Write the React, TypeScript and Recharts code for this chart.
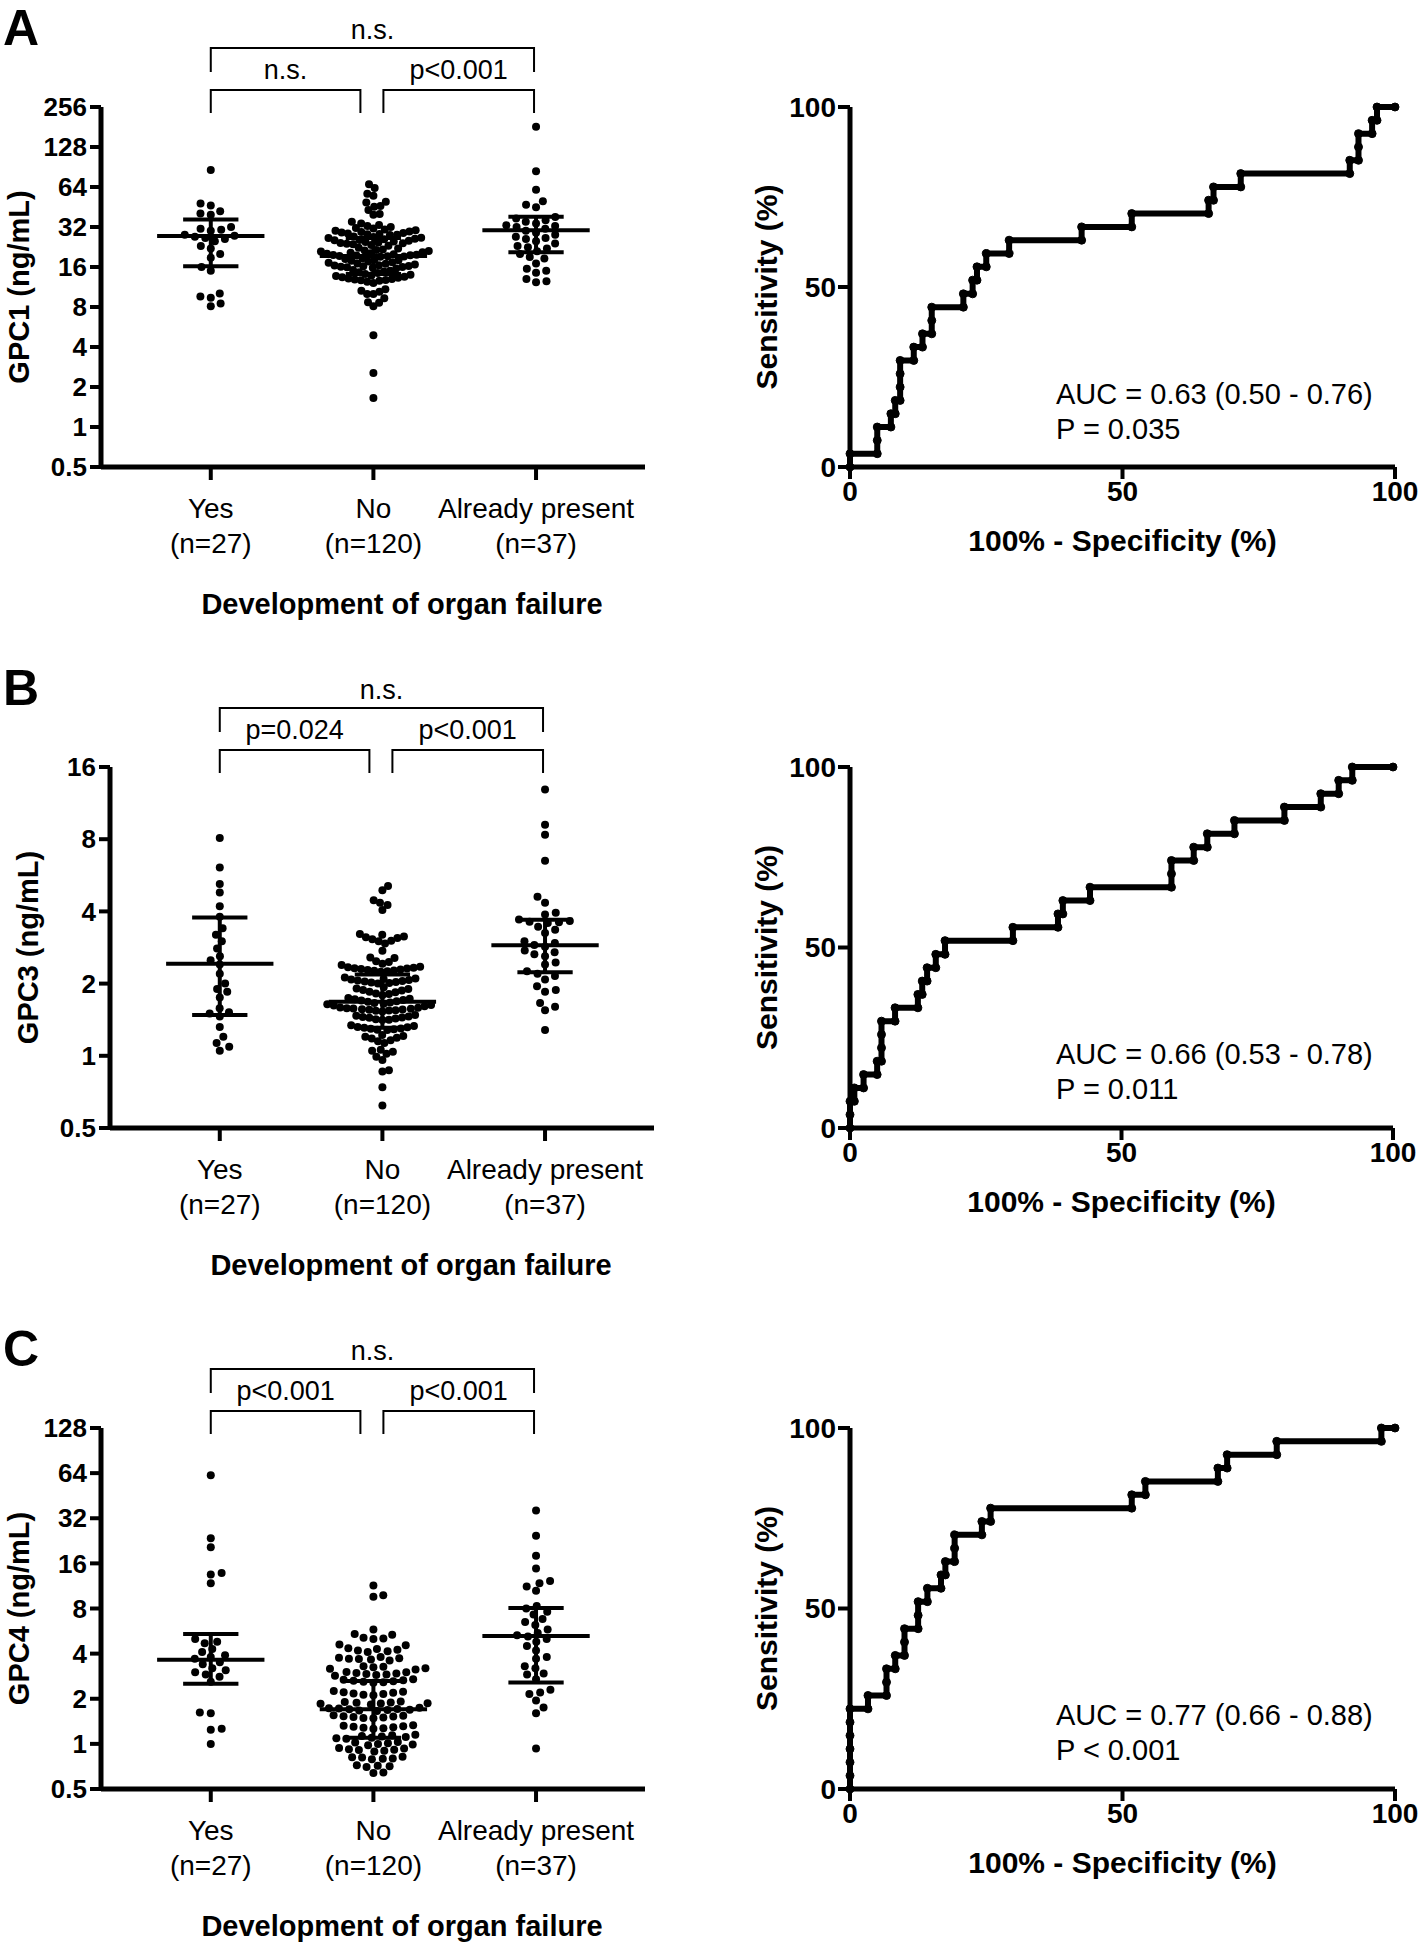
import React from "react";
import { Line, LineChart, ReferenceLine, Scatter, ScatterChart, XAxis, YAxis } from "recharts";

const FONT = '"Liberation Sans", Arial, Helvetica, sans-serif';

const groupNames = ["Yes", "No", "Already present"];
const groupSizes = ["(n=27)", "(n=120)", "(n=37)"];

// ---- GPC1 (panel A) ----
const gpc1Ticks = [0.5, 1, 2, 4, 8, 16, 32, 64, 128, 256];
const gpc1Yes = [86, 48, 46.5, 42, 40.5, 39.5, 32, 31, 30.5, 30, 28, 27.5, 27, 26.5, 26, 25, 23, 22, 20, 18.8, 16, 15, 10.1, 9.6, 9.4, 8.5, 8.1];
const gpc1No = [
  67, 63, 57, 55, 49.5, 49, 46, 45.5, 43, 40, 39.5, 35,
  34, 33.2, 32.6, 32, 31.5, 31.2, 30.6, 30.3, 30, 29.6, 29.3, 29.1, 28.8, 28.6, 28.4, 28.2, 28, 27.8,
  27.2, 26.9, 26.6, 26.4, 26.1, 25.9, 25.6, 25.4, 25.2, 24.9, 24.7, 24.5, 24.3, 24.1, 23.9, 23.7, 23.4, 23.1,
  22.3, 22, 21.7, 21.5, 21.3, 21.1, 20.9, 20.7, 20.5, 20.3, 20.1, 19.95, 19.8, 19.7, 19.6, 19.5, 19.4, 19.3, 19.2, 19.1,
  18.6, 18.4, 18.2, 18, 17.8, 17.6, 17.4, 17.2, 17, 16.9, 16.7, 16.5, 16.4, 16.3, 16.2, 16.1, 16, 15.9, 15.8, 15.6,
  15.2, 15, 14.8, 14.6, 14.4, 14.2, 14, 13.8, 13.7, 13.5, 13.4, 13.3, 13.1, 13, 12.9, 12.8, 12.7, 12.6, 12.4,
  12.1, 10.9, 10.6, 10.4, 10, 10, 9.3, 8.7, 8.6, 8.1,
  4.9, 2.55, 1.65,
];
const gpc1Already = [182, 84, 61, 50, 47, 45, 38, 37, 36, 35, 34, 33, 32.5, 32, 31, 30, 29, 28, 27, 26.5, 26, 25, 24, 23, 22.5, 22, 21, 20, 19, 18.5, 17, 15.5, 15, 14.5, 13, 12.5, 12.3];
// [center, lower, upper] per group
const gpc1Summary = [[27.4, 16.2, 36.5], [19.4, 14.2, 26.5], [30.2, 20.7, 38.3]];
const gpc1Tests = ["n.s.", "n.s.", "p<0.001"];
// ROC: [100% - specificity, sensitivity] after each step
const gpc1Roc = [
  [0, 3.7], [5.0, 7.4], [5.0, 11.1], [7.5, 14.8], [8.3, 18.5], [9.2, 22.2], [9.2, 25.9], [9.2, 29.6],
  [11.7, 33.3], [13.3, 37.0], [15.0, 40.7], [15.0, 44.4], [20.8, 48.1], [22.5, 51.9], [23.3, 55.6],
  [25.0, 59.3], [29.2, 63.0], [42.5, 66.7], [51.7, 70.4], [65.8, 74.1], [66.7, 77.8], [71.7, 81.5],
  [91.7, 85.2], [93.3, 88.9], [93.3, 92.6], [95.8, 96.3], [96.7, 100],
];
const gpc1Auc = ["AUC = 0.63 (0.50 - 0.76)", "P = 0.035"];

// ---- GPC3 (panel B) ----
const gpc3Ticks = [0.5, 1, 2, 4, 8, 16];
const gpc3Yes = [8.1, 6.1, 5.2, 4.8, 4.2, 3.8, 3.4, 3.2, 3.0, 2.8, 2.6, 2.5, 2.4, 2.2, 2.0, 1.9, 1.85, 1.75, 1.58, 1.52, 1.5, 1.46, 1.32, 1.2, 1.13, 1.09, 1.05];
const gpc3No = [
  5.1, 4.9, 4.45, 4.35, 4.25, 4.05,
  3.22, 3.2, 3.14, 3.12, 3.1, 3.06, 3.02, 3.0, 2.94,
  2.74,
  2.57, 2.56, 2.48, 2.46, 2.42, 2.39,
  2.35, 2.34, 2.33, 2.32, 2.31, 2.3, 2.29, 2.28, 2.27, 2.26, 2.25, 2.24,
  2.12, 2.1, 2.09, 2.08, 2.07, 2.06, 2.05, 2.04, 2.03, 2.02, 2.01, 2.0,
  1.93, 1.91, 1.9, 1.88, 1.87, 1.85, 1.84, 1.82, 1.81, 1.79,
  1.74, 1.73, 1.72, 1.71, 1.7, 1.69, 1.68, 1.67, 1.66, 1.65, 1.64, 1.63, 1.62, 1.61,
  1.59, 1.585, 1.58, 1.575, 1.57, 1.565, 1.56, 1.555, 1.55, 1.545, 1.54, 1.53,
  1.48, 1.47, 1.46, 1.45, 1.445, 1.44, 1.43, 1.42, 1.415, 1.41,
  1.34, 1.33, 1.32, 1.315, 1.31, 1.3, 1.295, 1.29, 1.285, 1.28,
  1.22, 1.21, 1.2, 1.19, 1.18, 1.16, 1.15, 1.13,
  1.06, 1.05, 1.04, 1.02, 0.99, 0.96, 0.87, 0.86, 0.74, 0.62,
];
const gpc3Already = [12.9, 9.2, 8.35, 6.5, 4.6, 4.35, 3.95, 3.88, 3.7, 3.65, 3.62, 3.6, 3.58, 3.45, 3.35, 3.25, 3.0, 2.95, 2.9, 2.85, 2.75, 2.7, 2.65, 2.6, 2.45, 2.4, 2.25, 2.2, 2.15, 2.08, 1.95, 1.88, 1.85, 1.66, 1.6, 1.55, 1.28];
const gpc3Summary = [[2.42, 1.48, 3.77], [1.68, 1.31, 2.18], [2.89, 2.23, 3.69]];
const gpc3Tests = ["n.s.", "p=0.024", "p<0.001"];
const gpc3Roc = [
  [0, 3.7], [0, 7.4], [0.8, 11.1], [2.5, 14.8], [5.0, 18.5], [5.8, 22.2], [5.8, 25.9], [5.8, 29.6],
  [8.3, 33.3], [12.5, 37.0], [13.3, 40.7], [14.2, 44.4], [15.8, 48.1], [17.5, 51.9], [30.0, 55.6],
  [38.3, 59.3], [39.2, 63.0], [44.2, 66.7], [59.2, 70.4], [59.2, 74.1], [63.3, 77.8], [65.8, 81.5],
  [70.8, 85.2], [80.0, 88.9], [86.7, 92.6], [90.0, 96.3], [92.5, 100],
];
const gpc3Auc = ["AUC = 0.66 (0.53 - 0.78)", "P = 0.011"];

// ---- GPC4 (panel C) ----
const gpc4Ticks = [0.5, 1, 2, 4, 8, 16, 32, 64, 128];
const gpc4Yes = [62, 23.5, 20.5, 13.8, 13.5, 11.8, 5.0, 4.8, 4.7, 4.3, 4.1, 3.9, 3.8, 3.7, 3.5, 3.4, 3.2, 3.1, 3.0, 2.9, 2.8, 2.6, 1.62, 1.6, 1.26, 1.24, 1.0];
const gpc4No = [
  11.4, 9.8, 9.6, 5.8, 5.4, 5.35, 5.1, 5.05, 5.0, 4.6, 4.55,
  4.35, 4.3, 4.25, 4.2, 4.15, 4.1,
  3.8, 3.76, 3.72, 3.7, 3.68, 3.65, 3.6,
  3.3, 3.27, 3.24, 3.2, 3.17, 3.14,
  3.02, 3.0, 2.97, 2.95, 2.93, 2.9, 2.88, 2.85,
  2.7, 2.68, 2.66, 2.64, 2.62, 2.6, 2.58, 2.56,
  2.25, 2.23, 2.21, 2.19, 2.17, 2.15, 2.13, 2.11,
  1.92, 1.9, 1.89, 1.88, 1.87, 1.86, 1.85, 1.83,
  1.74, 1.73, 1.72, 1.71, 1.7, 1.69, 1.68, 1.67, 1.66,
  1.55, 1.54, 1.53, 1.52, 1.51, 1.5, 1.49, 1.48,
  1.33, 1.32, 1.31, 1.3, 1.29, 1.28, 1.27, 1.26,
  1.15, 1.14, 1.13, 1.12, 1.11, 1.1, 1.09, 1.08,
  1.03, 1.02, 1.01, 1.0, 0.99, 0.98,
  0.94, 0.93, 0.92, 0.915, 0.91, 0.9, 0.89,
  0.82, 0.815, 0.81, 0.8, 0.795, 0.79,
  0.72, 0.715, 0.71, 0.7,
  0.645, 0.64,
];
const gpc4Already = [36, 24.5, 18, 14.8, 12.2, 11.8, 11.2, 10.5, 8.3, 8.0, 7.6, 7.3, 6.8, 6.5, 6.2, 5.8, 5.5, 5.3, 5.2, 5.0, 4.8, 4.5, 4.2, 3.8, 3.7, 3.3, 3.2, 2.95, 2.9, 2.7, 2.3, 2.2, 2.15, 1.95, 1.75, 1.6, 0.93];
const gpc4Summary = [[3.64, 2.52, 5.4], [1.7, 1.1, 2.63], [5.25, 2.57, 8.05]];
const gpc4Tests = ["n.s.", "p<0.001", "p<0.001"];
const gpc4Roc = [
  [0, 3.7], [0, 7.4], [0, 11.1], [0, 14.8], [0, 18.5], [0, 22.2], [3.3, 25.9], [6.7, 29.6], [6.7, 33.3],
  [8.3, 37.0], [10.0, 40.7], [10.0, 44.4], [12.5, 48.1], [12.5, 51.9], [14.2, 55.6], [16.7, 59.3],
  [17.5, 63.0], [19.2, 66.7], [19.2, 70.4], [24.2, 74.1], [25.8, 77.8], [51.7, 81.5], [54.2, 85.2],
  [67.5, 88.9], [69.2, 92.6], [78.3, 96.3], [97.5, 100],
];
const gpc4Auc = ["AUC = 0.77 (0.66 - 0.88)", "P < 0.001"];

// ---- layout ----
const X_MIN = -0.675;
const X_MAX = 2.67;
const PLOT_TOP = 107;
const PLOT_W = 544;
const UNIT_PX = PLOT_W / (X_MAX - X_MIN);
const ROC_LEFT = 850;

type Panel = {
  letter: string;
  yLabel: string;
  values: number[][];
  summary: number[][];
  ticks: number[];
  tests: string[];
  roc: number[][];
  auc: string[];
  top: number;
  plotH: number;
  dotLeft: number;
  rocRight: number;
  spacing: number[];
};

const panels: Panel[] = [
  { letter: "A", yLabel: "GPC1 (ng/mL)", values: [gpc1Yes, gpc1No, gpc1Already], summary: gpc1Summary, ticks: gpc1Ticks, tests: gpc1Tests, roc: gpc1Roc, auc: gpc1Auc, top: 0, plotH: 360, dotLeft: 101, rocRight: 1395, spacing: [10.5, 6.3, 10.5] },
  { letter: "B", yLabel: "GPC3 (ng/mL)", values: [gpc3Yes, gpc3No, gpc3Already], summary: gpc3Summary, ticks: gpc3Ticks, tests: gpc3Tests, roc: gpc3Roc, auc: gpc3Auc, top: 660, plotH: 361, dotLeft: 110, rocRight: 1393, spacing: [10.8, 6.6, 11] },
  { letter: "C", yLabel: "GPC4 (ng/mL)", values: [gpc4Yes, gpc4No, gpc4Already], summary: gpc4Summary, ticks: gpc4Ticks, tests: gpc4Tests, roc: gpc4Roc, auc: gpc4Auc, top: 1321, plotH: 361, dotLeft: 101, rocRight: 1395, spacing: [11, 10, 11] },
];

const tickFont = { fill: "#000", fontSize: 26, fontWeight: 700, fontFamily: FONT };
const titleStyle = { fontSize: 29, fontWeight: 700, fontFamily: FONT, fill: "#000" };
const axisLine = { stroke: "#000", strokeWidth: 5 };
const tickLine = { stroke: "#000", strokeWidth: 4 };

// place dots of one column like a scatter dot plot: lowest first, each as close to the centre as it fits,
// alternating sides on ties
function swarm(values: number[], group: number, pxPerLog2: number, sx: number, sy: number) {
  const sorted = [...values].sort((a, b) => a - b);
  const placed: { dx: number; py: number }[] = [];
  let side = 1;
  return sorted.map((v) => {
    const py = Math.log2(v) * pxPerLog2;
    const cands = [0];
    placed.forEach((p) => {
      const t = (py - p.py) / sy;
      if (Math.abs(t) < 1) {
        const off = sx * Math.sqrt(1 - t * t);
        cands.push(p.dx + off, p.dx - off);
      }
    });
    cands.sort((a, b) => {
      const d = Math.abs(a) - Math.abs(b);
      if (Math.abs(d) > 0.5) return d;
      return b * side - a * side;
    });
    const fits = (c: number) =>
      placed.every((p) => ((c - p.dx) / sx) ** 2 + ((py - p.py) / sy) ** 2 >= 0.999);
    const dx = cands.find(fits) ?? 0;
    if (dx > 0.01) side = -1;
    else if (dx < -0.01) side = 1;
    placed.push({ dx, py });
    return { x: group + dx / UNIT_PX, y: v };
  });
}

const CategoryTick = (props: any) => {
  const { x, y, payload } = props;
  const i = payload.value as number;
  const style = { fontSize: 28, fontFamily: FONT, fill: "#000" };
  return (
    <g>
      <text x={x} y={y + 36} textAnchor="middle" style={style}>{groupNames[i]}</text>
      <text x={x} y={y + 71} textAnchor="middle" style={style}>{groupSizes[i]}</text>
    </g>
  );
};

const dotShape = (props: any) => <circle cx={props.cx} cy={props.cy} r={4} fill="#000" />;

function DotPlot({ p }: { p: Panel }) {
  const lo = p.ticks[0];
  const hi = p.ticks[p.ticks.length - 1];
  const pxPerLog2 = p.plotH / (Math.log2(hi) - Math.log2(lo));
  const width = 700;
  const height = PLOT_TOP + p.plotH + 160;
  const bottom = PLOT_TOP + p.plotH;
  const columns = p.values.map((vals, g) => swarm(vals, g, pxPerLog2, p.spacing[g], 8));

  return (
    <div style={{ position: "absolute", left: 0, top: p.top }}>
      <ScatterChart width={width} height={height} margin={{ top: PLOT_TOP, right: width - p.dotLeft - PLOT_W, bottom: 0, left: 0 }}>
        <XAxis
          type="number"
          dataKey="x"
          domain={[X_MIN, X_MAX]}
          ticks={[0, 1, 2]}
          interval={0}
          allowDataOverflow
          height={160}
          tickSize={13}
          axisLine={axisLine}
          tickLine={tickLine}
          tick={<CategoryTick />}
          label={{
            content: () => (
              <text x={p.dotLeft + PLOT_W / 2 + 29} y={bottom + 147} textAnchor="middle" style={titleStyle}>
                Development of organ failure
              </text>
            ),
          }}
        />
        <YAxis
          type="number"
          dataKey="y"
          scale="log"
          domain={[lo, hi]}
          ticks={p.ticks}
          interval={0}
          allowDataOverflow
          width={p.dotLeft}
          tickSize={11}
          tickMargin={3}
          axisLine={axisLine}
          tickLine={tickLine}
          tick={tickFont}
          label={{
            content: () => {
              const cx = p.dotLeft - 82;
              const cy = PLOT_TOP + p.plotH / 2;
              return (
                <text x={cx} y={cy} transform={`rotate(-90 ${cx} ${cy})`} textAnchor="middle" dominantBaseline="central" style={titleStyle}>
                  {p.yLabel}
                </text>
              );
            },
          }}
        />
        {columns.map((pts, g) => (
          <Scatter key={g} data={pts} fill="#000" shape={dotShape} isAnimationActive={false} />
        ))}
        {p.summary.map(([c, low, high], g) => (
          <React.Fragment key={`s${g}`}>
            <ReferenceLine segment={[{ x: g - 0.33, y: c }, { x: g + 0.33, y: c }]} stroke="#000" strokeWidth={4} />
            <ReferenceLine segment={[{ x: g - 0.17, y: low }, { x: g + 0.17, y: low }]} stroke="#000" strokeWidth={4} />
            <ReferenceLine segment={[{ x: g - 0.17, y: high }, { x: g + 0.17, y: high }]} stroke="#000" strokeWidth={4} />
            <ReferenceLine segment={[{ x: g, y: low }, { x: g, y: high }]} stroke="#000" strokeWidth={4} />
          </React.Fragment>
        ))}
      </ScatterChart>
    </div>
  );
}

function RocPlot({ p }: { p: Panel }) {
  const width = 718;
  const height = PLOT_TOP + p.plotH + 110;
  const bottom = PLOT_TOP + p.plotH;
  const left = ROC_LEFT - 700;
  const right = p.rocRight - 700;
  const points: { x: number; y: number }[] = [{ x: 0, y: 0 }];
  p.roc.forEach(([fx, s]) => {
    const last = points[points.length - 1];
    if (last.x !== fx) points.push({ x: fx, y: last.y });
    points.push({ x: fx, y: s });
  });
  points.push({ x: 100, y: 100 });

  return (
    <div style={{ position: "absolute", left: 700, top: p.top }}>
      <LineChart width={width} height={height} data={points} margin={{ top: PLOT_TOP, right: width - right, bottom: 0, left: 0 }}>
        <XAxis
          type="number"
          dataKey="x"
          domain={[0, 100]}
          ticks={[0, 50, 100]}
          interval={0}
          height={110}
          tickSize={12}
          tickMargin={2}
          axisLine={axisLine}
          tickLine={tickLine}
          tick={{ ...tickFont, fontSize: 28 }}
          label={{
            content: () => (
              <text x={(left + right) / 2} y={bottom + 84} textAnchor="middle" style={{ ...titleStyle, fontSize: 30 }}>
                100% - Specificity (%)
              </text>
            ),
          }}
        />
        <YAxis
          type="number"
          domain={[0, 100]}
          ticks={[0, 50, 100]}
          interval={0}
          width={left}
          tickSize={12}
          tickMargin={2}
          axisLine={axisLine}
          tickLine={tickLine}
          tick={{ ...tickFont, fontSize: 28 }}
          label={{
            content: () => {
              const cx = left - 84;
              const cy = PLOT_TOP + p.plotH / 2;
              return (
                <text x={cx} y={cy} transform={`rotate(-90 ${cx} ${cy})`} textAnchor="middle" dominantBaseline="central" style={{ ...titleStyle, fontSize: 30 }}>
                  Sensitivity (%)
                </text>
              );
            },
          }}
        />
        <Line
          dataKey="y"
          type="linear"
          stroke="#000"
          strokeWidth={6}
          dot={{ r: 4, fill: "#000", stroke: "#000", strokeWidth: 1 }}
          isAnimationActive={false}
        />
      </LineChart>
    </div>
  );
}

function Annotations({ p }: { p: Panel }) {
  const T = p.top + PLOT_TOP;
  const xp = (g: number) => p.dotLeft + (g - X_MIN) * UNIT_PX;
  const x0 = xp(0);
  const x1a = xp(1) - 13;
  const x1b = xp(1) + 10;
  const x2 = xp(2) - 2;
  const txt = { fontSize: 27, fontFamily: FONT, fill: "#000" };
  const auc = { fontSize: 29, fontFamily: FONT, fill: "#000" };
  return (
    <g>
      <text x={3} y={p.top + 45} style={{ fontSize: 50, fontWeight: 700, fontFamily: FONT, fill: "#000" }}>{p.letter}</text>
      <path d={`M${x0} ${T - 35} V${T - 59} H${x2} V${T - 35}`} fill="none" stroke="#000" strokeWidth={2} />
      <path d={`M${x0} ${T + 6} V${T - 17} H${x1a} V${T + 6}`} fill="none" stroke="#000" strokeWidth={2} />
      <path d={`M${x1b} ${T + 6} V${T - 17} H${x2} V${T + 6}`} fill="none" stroke="#000" strokeWidth={2} />
      <text x={(x0 + x2) / 2} y={T - 68} textAnchor="middle" style={txt}>{p.tests[0]}</text>
      <text x={(x0 + x1a) / 2} y={T - 28} textAnchor="middle" style={txt}>{p.tests[1]}</text>
      <text x={(x1b + x2) / 2} y={T - 28} textAnchor="middle" style={txt}>{p.tests[2]}</text>
      <text x={ROC_LEFT + 206} y={T + 297} style={auc}>{p.auc[0]}</text>
      <text x={ROC_LEFT + 206} y={T + 332} style={auc}>{p.auc[1]}</text>
    </g>
  );
}

export default function App() {
  return (
    <div style={{ position: "absolute", left: 0, top: 0, width: 1418, height: 1943, background: "#fff", overflow: "hidden" }}>
      {panels.map((p) => (
        <React.Fragment key={p.letter}>
          <DotPlot p={p} />
          <RocPlot p={p} />
        </React.Fragment>
      ))}
      <svg width={1418} height={1943} style={{ position: "absolute", left: 0, top: 0, pointerEvents: "none" }}>
        {panels.map((p) => (
          <Annotations key={p.letter} p={p} />
        ))}
      </svg>
    </div>
  );
}
